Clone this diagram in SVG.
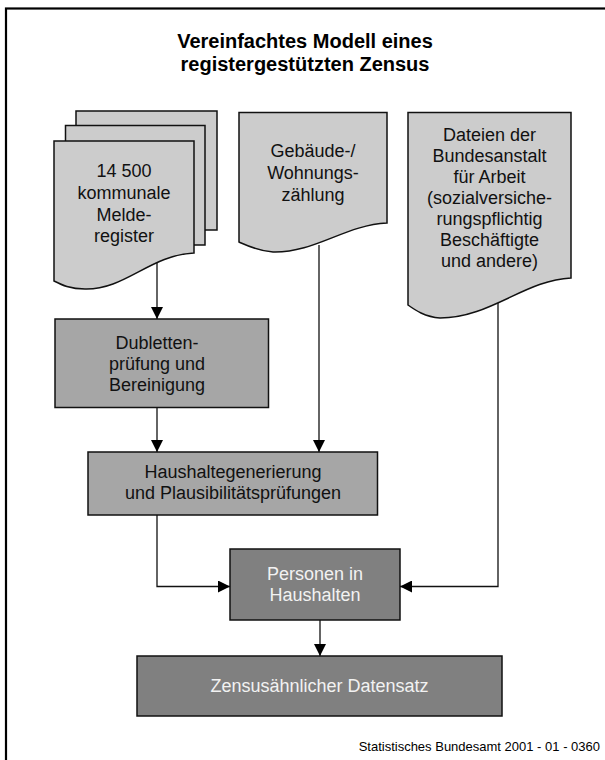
<svg xmlns="http://www.w3.org/2000/svg" width="605" height="760" viewBox="0 0 605 760">
<defs>
<marker id="ah" markerWidth="12" markerHeight="12" viewBox="0 0 12 12" refX="12" refY="6" orient="auto" markerUnits="userSpaceOnUse">
<path d="M0,0 L12,6 L0,12 Z" fill="#000"/>
</marker>
<style>
.t{font-family:"Liberation Sans",Arial,sans-serif;font-size:18px;text-anchor:middle;fill:#111}
.tw{font-family:"Liberation Sans",Arial,sans-serif;font-size:18px;text-anchor:middle;fill:#f2f2f2}
.title{font-family:"Liberation Sans",Arial,sans-serif;font-size:20px;font-weight:bold;text-anchor:middle;fill:#000}
.foot{font-family:"Liberation Sans",Arial,sans-serif;font-size:13px;text-anchor:end;fill:#000}
.doc{fill:#cccccc;stroke:#111;stroke-width:1.5}
.box1{fill:#a6a6a6;stroke:#111;stroke-width:1.5}
.box2{fill:#808080;stroke:#111;stroke-width:1.5}
.c{fill:none;stroke:#111;stroke-width:1.3;marker-end:url(#ah)}
</style>
</defs>
<rect x="6" y="8.5" width="640" height="800" fill="#fff" stroke="#000" stroke-width="2.2"/>
<g id="title">
<text class="title" x="305" y="48">Vereinfachtes Modell eines</text>
<text class="title" x="305" y="71">registergestützten Zensus</text>
</g>
<g id="connectors">
<path class="c" d="M157,262 V319"/>
<path class="c" d="M157,408 V452"/>
<path class="c" d="M319,245 V452"/>
<path class="c" d="M157,515 V586.5 H230"/>
<path class="c" d="M498,300 V586.5 H400"/>
<path class="c" d="M320,620 V656"/>
</g>
<g id="melderegister">
<rect class="doc" x="76" y="111" width="141" height="119"/>
<rect class="doc" x="65.5" y="125.5" width="139.5" height="119.5"/>
<path class="doc" d="M54,141 H194 V253 C150,255 125,290 85,289 C70,289 62,285 54,281 Z"/>
<text class="t" x="124" y="177">14 500</text>
<text class="t" x="124" y="199">kommunale</text>
<text class="t" x="124" y="221">Melde-</text>
<text class="t" x="124" y="242">register</text>
</g>
<g id="gebaeude">
<path class="doc" d="M239,112.5 H387 V223 C345,225 315,253 273,252 C258,251 248,246 239,242 Z"/>
<text class="t" x="313" y="157">Gebäude-/</text>
<text class="t" x="313" y="179">Wohnungs-</text>
<text class="t" x="313" y="201">zählung</text>
</g>
<g id="dateien">
<path class="doc" d="M408,112.5 H571 V278 C525,280 490,318 440,318 C425,317 415,310 408,305 Z"/>
<text class="t" x="489.5" y="141">Dateien der</text>
<text class="t" x="489.5" y="162">Bundesanstalt</text>
<text class="t" x="489.5" y="183">für Arbeit</text>
<text class="t" x="489.5" y="204">(sozialversiche-</text>
<text class="t" x="489.5" y="225">rungspflichtig</text>
<text class="t" x="489.5" y="246">Beschäftigte</text>
<text class="t" x="489.5" y="267">und andere)</text>
</g>
<g id="dubletten">
<rect class="box1" x="55" y="319" width="213.5" height="88.5"/>
<text class="t" x="157" y="349">Dubletten-</text>
<text class="t" x="157" y="370">prüfung und</text>
<text class="t" x="157" y="391">Bereinigung</text>
</g>
<g id="haushalte">
<rect class="box1" x="88" y="452" width="289.5" height="63"/>
<text class="t" x="233" y="478">Haushaltegenerierung</text>
<text class="t" x="233" y="499">und Plausibilitätsprüfungen</text>
</g>
<g id="personen">
<rect class="box2" x="230" y="549" width="170" height="71"/>
<text class="tw" x="315" y="580">Personen in</text>
<text class="tw" x="315" y="601">Haushalten</text>
</g>
<g id="zensus">
<rect class="box2" x="137" y="656" width="365" height="60"/>
<text class="tw" x="319.5" y="692">Zensusähnlicher Datensatz</text>
</g>
<text class="foot" x="600" y="751">Statistisches Bundesamt 2001 - 01 - 0360</text>
</svg>
